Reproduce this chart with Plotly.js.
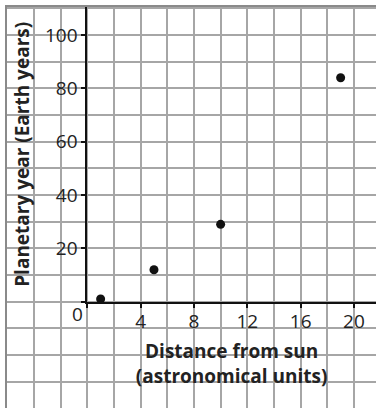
<!DOCTYPE html>
<html>
<head>
<meta charset="utf-8">
<script src="https://cdn.plot.ly/plotly-3.0.1.min.js"></script>
<style>html,body{margin:0;padding:0;background:#fff}#chart{width:376px;height:408px}</style>
</head>
<body>
<div id="chart"></div>
<script>
// Data
var distanceAU = [1, 5, 10, 19];
var planetaryYears = [1, 12, 29, 84];
var xTickVals = [0, 4, 8, 12, 16, 20];
var xTickText = ['', '4', '8', '12', '16', '20'];
var yTickVals = [0, 20, 40, 60, 80, 100];
var yTickText = ['', '20', '40', '60', '80', '100'];
var xTitle = 'Distance from sun<br>(astronomical units)';
var yTitle = 'Planetary year (Earth years)';

var W = 376, H = 408, L = 7, T = 7;
var pxPerX = 26.667 / 2, pxPerY = 26.667 / 10;
var originPx = [87.3, 301.7];
var xMin = -(originPx[0] - L) / pxPerX;
var xMax = xMin + (W - L) / pxPerX;
var yMax = (originPx[1] - T) / pxPerY;
var yMin = yMax - (H - T) / pxPerY;
var fx0 = (originPx[0] - L) / (W - L);
var fy0 = (H - originPx[1]) / (H - T);

var font = 'Open Sans, Noto Sans, sans-serif';

// empty trace keeps the full-page grid subplot alive
var gridTrace = {x: [], y: [], type: 'scatter', mode: 'markers', xaxis: 'x', yaxis: 'y', hoverinfo: 'skip'};
var trace = {
  x: distanceAU, y: planetaryYears, type: 'scatter', mode: 'markers',
  marker: {color: '#111', size: 9}, xaxis: 'x2', yaxis: 'y2',
  cliponaxis: false, hoverinfo: 'skip'
};

var layout = {
  width: W, height: H,
  margin: {l: L, r: 0, t: T, b: 0, pad: 0},
  paper_bgcolor: '#fff', plot_bgcolor: 'rgba(0,0,0,0)',
  showlegend: false,
  font: {family: font, color: '#222'},
  xaxis: {
    domain: [0, 1], range: [xMin, xMax], dtick: 2, tick0: 0,
    showgrid: true, gridcolor: '#a6a6a6', gridwidth: 2,
    zeroline: false, showticklabels: false, ticks: '',
    showline: true, linecolor: '#8a8a8a', linewidth: 2, mirror: true,
    anchor: 'y', fixedrange: true
  },
  yaxis: {
    domain: [0, 1], range: [yMin, yMax], dtick: 10, tick0: 0,
    showgrid: true, gridcolor: '#a6a6a6', gridwidth: 2,
    zeroline: false, showticklabels: false, ticks: '',
    showline: true, linecolor: '#8a8a8a', linewidth: 2, mirror: true,
    anchor: 'x', fixedrange: true
  },
  xaxis2: {
    domain: [fx0, 1], range: [0, xMax], anchor: 'y2',
    showgrid: false, zeroline: false,
    showline: true, linecolor: '#111', linewidth: 2,
    ticks: 'outside', ticklen: 4, tickwidth: 2, tickcolor: '#111',
    ticklabelstandoff: -3,
    tickmode: 'array', tickvals: xTickVals, ticktext: xTickText,
    tickfont: {family: font, size: 19, color: '#222'},
    title: {text: xTitle, standoff: 12, font: {family: font, size: 19, color: '#222', weight: 'bold'}},
    fixedrange: true
  },
  yaxis2: {
    domain: [fy0, 1], range: [0, yMax], anchor: 'x2',
    showgrid: false, zeroline: false,
    showline: true, linecolor: '#111', linewidth: 2,
    ticks: 'outside', ticklen: 4, tickwidth: 2, tickcolor: '#111',
    tickmode: 'array', tickvals: yTickVals, ticktext: yTickText,
    tickfont: {family: font, size: 19, color: '#222'},
    title: {text: yTitle, standoff: 10, font: {family: font, size: 19, color: '#222', weight: 'bold'}},
    fixedrange: true
  },
  annotations: [{
    text: '0', xref: 'x', yref: 'y', x: 0, y: 0,
    xanchor: 'right', yanchor: 'top', showarrow: false,
    xshift: -2, yshift: 3, font: {family: font, size: 19, color: '#222'}
  }]
};

Plotly.newPlot('chart', [gridTrace, trace], layout, {staticPlot: true, displayModeBar: false});
</script>
</body>
</html>
